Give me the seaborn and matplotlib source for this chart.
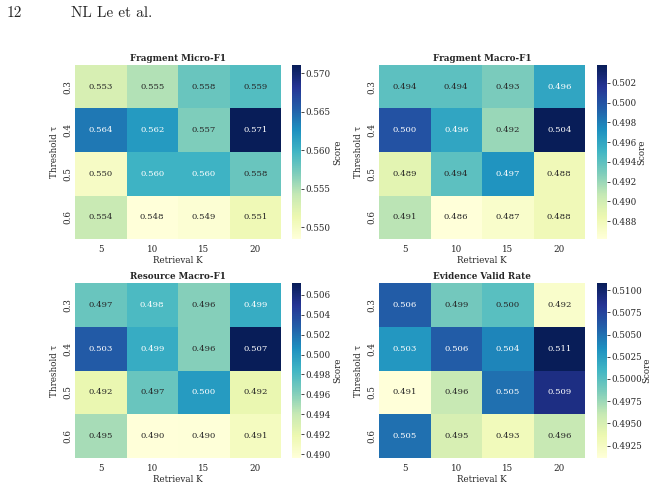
import numpy as np
import pandas as pd
import matplotlib
matplotlib.use("Agg")
import matplotlib.pyplot as plt
import seaborn as sns

# Grid-search results: rows = threshold tau, cols = retrieval K
thresholds = ["0.3", "0.4", "0.5", "0.6"]
retrieval_k = ["5", "10", "15", "20"]

frag_micro_f1 = [
    [0.553, 0.555, 0.558, 0.559],
    [0.564, 0.562, 0.557, 0.5711],
    [0.550, 0.560, 0.560, 0.558],
    [0.554, 0.5485, 0.549, 0.551],
]
frag_macro_f1 = [
    [0.494, 0.494, 0.493, 0.496],
    [0.500, 0.496, 0.492, 0.5038],
    [0.489, 0.494, 0.497, 0.488],
    [0.491, 0.4862, 0.487, 0.488],
]
res_macro_f1 = [
    [0.497, 0.498, 0.496, 0.499],
    [0.503, 0.499, 0.496, 0.5072],
    [0.492, 0.497, 0.500, 0.492],
    [0.495, 0.4896, 0.4897, 0.491],
]
evidence_valid = [
    [0.506, 0.499, 0.500, 0.492],
    [0.503, 0.506, 0.504, 0.5108],
    [0.4911, 0.496, 0.505, 0.509],
    [0.505, 0.495, 0.493, 0.496],
]

panels = [
    ("Fragment Micro-F1", frag_micro_f1),
    ("Fragment Macro-F1", frag_macro_f1),
    ("Resource Macro-F1", res_macro_f1),
    ("Evidence Valid Rate", evidence_valid),
]

sns.set_theme(style="white")
plt.rcParams["font.family"] = ["DejaVu Serif"]

W, H = 656, 486
fig = plt.figure(figsize=(W / 100, H / 100), dpi=100)

def frac(x0, y0, x1, y1):
    return [x0 / W, 1 - y1 / H, (x1 - x0) / W, (y1 - y0) / H]

# pixel boxes: heatmap, colorbar, x of the "Score" label
boxes = [
    ((75, 65, 281, 239), (292, 65, 301, 239), 338),
    ((379, 65, 585, 239), (597, 65, 607, 239), 642),
    ((75, 283, 281, 458), (292, 283, 301, 458), 338),
    ((379, 283, 585, 458), (597, 283, 607, 458), 647),
]

FS = 6.3
for (title, vals), (hb, cb, lx) in zip(panels, boxes):
    ax = fig.add_axes(frac(*hb))
    cax = fig.add_axes(frac(*cb))
    df = pd.DataFrame(vals, index=thresholds, columns=retrieval_k)
    sns.heatmap(df, ax=ax, cbar_ax=cax, cmap="YlGnBu", annot=True, fmt=".3f",
                annot_kws={"fontsize": 6.1})
    ax.set_title(title, fontsize=FS, fontweight="bold", pad=3)
    ax.set_xlabel("Retrieval K", fontsize=FS, labelpad=2)
    ax.set_ylabel("Threshold τ", fontsize=FS, labelpad=3)
    ax.tick_params(axis="x", labelsize=FS, length=0, pad=4)
    ax.tick_params(axis="y", labelsize=FS, length=0, pad=2)
    ax.set_yticklabels(thresholds, rotation=90, va="center")
    cax.tick_params(labelsize=FS, length=2.5, width=0.6, pad=1)
    fig.text(lx / W, 1 - (cb[1] + cb[3]) / 2 / H, "Score", fontsize=FS,
             rotation=90, ha="center", va="center")

fig.text(6.5 / W, 1 - 13 / H, "12", fontsize=11, family="cmr10", va="center")
fig.text(71 / W, 1 - 13 / H, "NL Le et al.", fontsize=11, family="cmr10", va="center")

fig.savefig("out.png", dpi=100)
